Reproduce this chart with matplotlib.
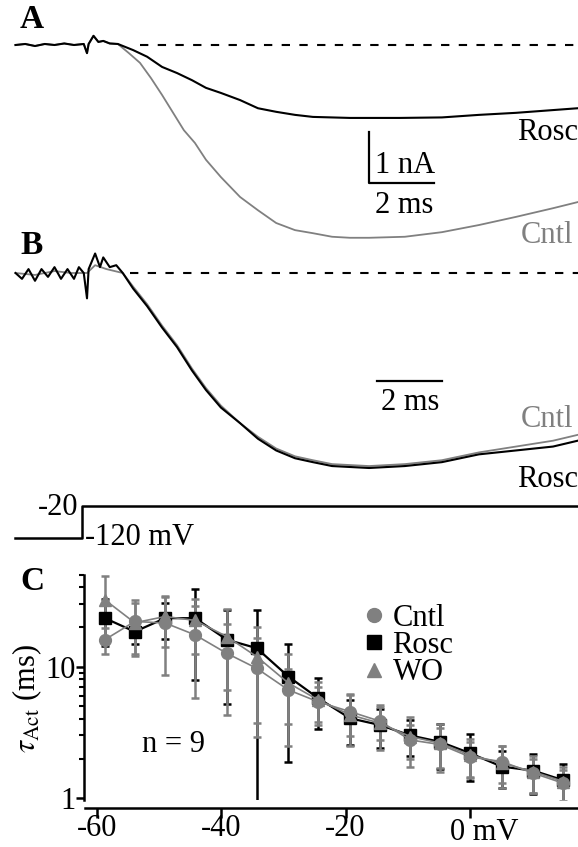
import matplotlib
matplotlib.use("Agg")
import matplotlib.pyplot as plt
from matplotlib.lines import Line2D
from matplotlib.ticker import FixedLocator, LogLocator, NullFormatter

plt.rcParams["font.family"] = ["Liberation Serif", "DejaVu Serif"]
plt.rcParams["mathtext.fontset"] = "stix"

GREY = "#808080"
W, H = 578, 847

# ---- Panel A: raw currents (ms, nA) ----
t_pre_a = [-2.2, -1.9, -1.6, -1.3, -1.0, -0.7, -0.4, -0.1, 0.0, 0.05, 0.2, 0.35, 0.5, 0.7, 0.95]
i_pre_a = [0.0, 0.02, -0.02, 0.02, 0.0, 0.03, 0.0, 0.02, -0.16, 0.02, 0.18, 0.06, 0.08, 0.03, 0.02]

t_rosc_a = [1.42, 1.85, 2.31, 2.77, 3.23, 3.66, 4.12, 4.71, 5.26, 5.82, 6.40, 6.95,
            8.09, 9.63, 10.92, 12.06, 13.2, 15.1]
i_rosc_a = [-0.10, -0.23, -0.43, -0.55, -0.69, -0.84, -0.94, -1.08, -1.24, -1.31, -1.37, -1.41,
            -1.43, -1.43, -1.42, -1.37, -1.33, -1.24]

t_cntl_a = [1.29, 1.63, 1.97, 2.31, 2.65, 2.98, 3.32, 3.66, 4.12, 4.71, 5.26, 5.82, 6.40,
            6.95, 7.54, 8.09, 8.68, 9.78, 10.92, 12.06, 13.2, 14.34, 15.1]
i_cntl_a = [-0.16, -0.35, -0.65, -0.98, -1.33, -1.67, -1.92, -2.25, -2.59, -2.98, -3.24, -3.49,
            -3.63, -3.69, -3.76, -3.78, -3.78, -3.76, -3.67, -3.53, -3.37, -3.20, -3.08]

# ---- Panel B: scaled currents (normalised) ----
t_pre_b_rosc = [-2.2, -2.0, -1.8, -1.6, -1.4, -1.2, -1.0, -0.8, -0.6, -0.4, -0.25, -0.1,
                0.0, 0.05, 0.25, 0.4, 0.5, 0.7, 0.9, 1.1]
i_pre_b_rosc = [0.0, -0.03, 0.02, -0.04, 0.02, -0.02, 0.03, -0.03, 0.02, -0.03, 0.03, 0.0,
                -0.13, 0.02, 0.10, 0.03, 0.08, 0.03, 0.04, 0.0]
t_pre_b_cntl = [-2.2, -1.6, -1.0, -0.5, 0.0, 0.25, 0.6, 1.1]
i_pre_b_cntl = [0.0, -0.01, 0.01, 0.0, 0.0, 0.04, 0.02, 0.0]

t_b = [1.42, 1.85, 2.31, 2.77, 3.23, 3.66, 4.12, 4.71, 5.26, 5.82, 6.40, 6.95, 7.54,
       8.68, 9.78, 10.92, 12.06, 13.2, 14.34, 15.1]
i_rosc_b = [-0.08, -0.17, -0.28, -0.38, -0.50, -0.60, -0.69, -0.77, -0.85, -0.91, -0.95, -0.97,
            -0.99, -1.00, -0.99, -0.97, -0.93, -0.91, -0.89, -0.86]
i_cntl_b = [-0.07, -0.16, -0.27, -0.37, -0.49, -0.59, -0.68, -0.77, -0.84, -0.90, -0.94, -0.96,
            -0.98, -0.99, -0.98, -0.96, -0.92, -0.89, -0.86, -0.83]

# ---- voltage protocol (ms, mV) ----
protocol_t = [-2.2, -0.15, -0.15, 15.2]
protocol_v = [-120, -120, -20, -20]

# ---- Panel C: activation time constants ----
volt = [-58.7, -53.9, -49.0, -44.2, -39.1, -34.3, -29.2, -24.4, -19.3, -14.5, -9.6, -4.8,
        0.0, 5.1, 10.2, 15.0]
tau_cntl = [16.0, 22.0, 21.4, 17.4, 12.6, 9.7, 6.65, 5.4, 4.55, 3.85, 2.77, 2.56, 2.06, 1.90, 1.55, 1.30]
tau_rosc = [23.3, 18.4, 23.3, 23.3, 16.0, 13.8, 8.4, 5.75, 4.05, 3.6, 3.0, 2.68, 2.2, 1.74, 1.62, 1.37]
tau_wo = [32.1, 21.5, 24.0, 22.4, 16.9, 11.9, 7.5, 5.58, 4.3, 3.72, 2.94, 2.62, 2.13, 1.85, 1.59, 1.34]
err_cntl = [3.5, 10.0, 12.8, 11.6, 8.3, 6.8, 3.0, 1.6, 1.6, 1.1, 0.8, 0.85, 0.6, 0.6, 0.45, 0.35]
err_rosc = [9.0, 3.5, 7.0, 15.4, 10.8, 13.0, 6.5, 2.4, 1.5, 1.2, 0.9, 1.0, 0.85, 0.55, 0.55, 0.45]
err_wo = [17.0, 9.0, 10.0, 10.0, 10.3, 8.2, 5.0, 2.0, 1.8, 1.4, 1.2, 1.05, 0.7, 0.65, 0.5, 0.4]

fig = plt.figure(figsize=(W / 100, H / 100), dpi=100)


def px_axes(left, top, right, bottom):
    """Axes placed with pixel coordinates measured from the top-left corner."""
    return fig.add_axes([left / W, 1 - bottom / H, (right - left) / W, (bottom - top) / H])


# time axis: 32.5 px per ms, step onset at x = 87 px
xlim_t = (-87 / 32.5, (W - 87) / 32.5)

# Panel A
ax_a = px_axes(0, 30, W, 250)
ax_a.set_xlim(*xlim_t)
ax_a.set_ylim(-(250 - 45) / 51, (45 - 30) / 51)
ax_a.axis("off")
ax_a.plot([1.63, 15.2], [0, 0], color="k", lw=1.5, dashes=(4, 4.5))
ax_a.plot(t_pre_a + t_cntl_a, i_pre_a + i_cntl_a, color=GREY, lw=1.3)
ax_a.plot(t_pre_a + t_rosc_a, i_pre_a + i_rosc_a, color="k", lw=1.5)
ax_a.plot([8.68, 8.68, 10.68], [-1.71, -2.71, -2.71], color="k", lw=1.6)
ax_a.text(8.86, -2.51, "1 nA", fontsize=22, va="baseline")
ax_a.text(9.75, -3.29, "2 ms", fontsize=22, va="baseline", ha="center")
ax_a.text(15.1, -1.86, "Rosc", fontsize=22, va="baseline", ha="right")
ax_a.text(14.95, -3.88, "Cntl", fontsize=22, va="baseline", ha="right", color=GREY)

# Panel B
ax_b = px_axes(0, 240, W, 490)
ax_b.set_xlim(*xlim_t)
ax_b.set_ylim(-(490 - 273) / 195, (273 - 240) / 195)
ax_b.axis("off")
ax_b.plot([1.32, 15.2], [0, 0], color="k", lw=1.5, dashes=(4, 4.5))
ax_b.plot(t_pre_b_cntl + t_b, i_pre_b_cntl + i_cntl_b, color=GREY, lw=1.3)
ax_b.plot(t_pre_b_rosc + t_b, i_pre_b_rosc + i_rosc_b, color="k", lw=1.5)
ax_b.plot([8.92, 10.92], [-0.554, -0.554], color="k", lw=1.6)
ax_b.text(9.94, -0.703, "2 ms", fontsize=22, va="baseline", ha="center")
ax_b.text(14.95, -0.79, "Cntl", fontsize=22, va="baseline", ha="right", color=GREY)
ax_b.text(15.1, -1.097, "Rosc", fontsize=22, va="baseline", ha="right")

# Voltage protocol
ax_v = px_axes(0, 490, W, 550)
ax_v.set_xlim(*xlim_t)
ax_v.set_ylim(-120 - 12 / 0.32, -20 + 16 / 0.32)
ax_v.axis("off")
ax_v.plot(protocol_t, protocol_v, color="k", lw=1.8)
ax_v.text(-0.28, -48, "-20", fontsize=22, va="baseline", ha="right")
ax_v.text(-0.06, -142, "-120 mV", fontsize=22, va="baseline", ha="left")

# Panel C
ax_c = px_axes(85, 574.5, W, 800)
ax_c.set_yscale("log")
ax_c.set_xlim((85 - 470) / 6.22, (W - 470) / 6.22)
ax_c.set_ylim(0.97, 50)

series = [
    (tau_rosc, err_rosc, "s", "k", 1.6),
    (tau_cntl, err_cntl, "o", GREY, 1.2),
    (tau_wo, err_wo, "^", GREY, 1.2),
]
for tau, err, mk, col, lw in series:
    ax_c.errorbar(volt, tau, yerr=err, fmt=mk + "-", color=col, ecolor=col, lw=lw,
                  elinewidth=1.8, capsize=3, capthick=1.8, markersize=8.5)

# legend shows markers only
leg_handles = [Line2D([], [], ls="none", marker="o", color=GREY, markersize=10),
               Line2D([], [], ls="none", marker="s", color="k", markersize=9.5),
               Line2D([], [], ls="none", marker="^", color=GREY, markersize=10)]
ax_c.legend(leg_handles, ["Cntl", "Rosc", "WO"],
            loc="upper left", bbox_to_anchor=((362 - 85) / 493, (800 - 604) / 225.5),
            frameon=False, fontsize=22, borderpad=0, borderaxespad=0, handlelength=0.8,
            handletextpad=0.2, labelspacing=-0.06)

for side in ["top", "right"]:
    ax_c.spines[side].set_visible(False)
ax_c.spines["bottom"].set_position(("outward", 6))
ax_c.spines["left"].set_position(("outward", 1))
for side in ["bottom", "left"]:
    ax_c.spines[side].set_linewidth(1.8)

ax_c.xaxis.set_major_locator(FixedLocator([-60, -40, -20, 0]))
ax_c.set_xticklabels(["-60", "-40", "-20", ""])
ax_c.yaxis.set_major_locator(FixedLocator([1, 10]))
ax_c.set_yticklabels(["1", "10"])
ax_c.yaxis.set_minor_locator(LogLocator(base=10, subs=range(2, 10)))
ax_c.yaxis.set_minor_formatter(NullFormatter())
ax_c.tick_params(axis="x", direction="out", length=7, width=1.8, labelsize=22, pad=-3)
ax_c.tick_params(axis="y", which="major", direction="out", length=6, width=1.8,
                 labelsize=22, pad=0)
ax_c.tick_params(axis="y", which="minor", direction="out", length=3.5, width=1.5)
ax_c.annotate("0 mV", xy=(0, 0), xycoords=ax_c.get_xaxis_transform(),
              xytext=(10, -13), textcoords="offset points", ha="center", va="top",
              fontsize=22)

ax_c.set_ylabel(r"$\tau_{\mathrm{Act}}$ (ms)", fontsize=22)
ax_c.yaxis.set_label_coords(-0.083, 0.45)
ax_c.text(-47.7, 2.25, "n = 9", fontsize=22, ha="center", va="baseline")

# panel letters
for letter, top in [("A", 4), ("B", 230), ("C", 566)]:
    fig.text(20 / W, 1 - top / H, letter, fontsize=24, fontweight="bold", va="top")

fig.savefig("out.png", dpi=100)
